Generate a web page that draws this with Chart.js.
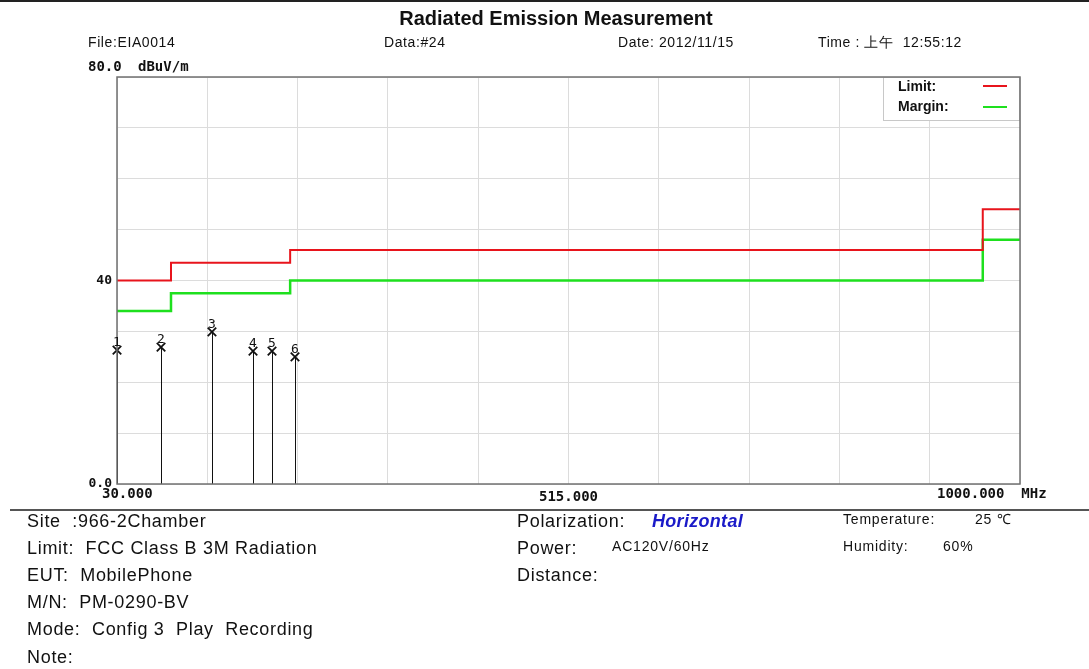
<!DOCTYPE html>
<html>
<head>
<meta charset="utf-8">
<script src="https://cdn.jsdelivr.net/npm/chart.js@4.4.1/dist/chart.umd.min.js"></script>
<style>
    html, body { margin: 0; padding: 0; background: #fff; }
    #page { position: relative; width: 1089px; height: 669px; overflow: hidden; font-family: "Liberation Sans", Arial, sans-serif; color: #111; }
    #page canvas { position: absolute; left: 0; top: 0; }
    .t { position: absolute; white-space: nowrap; line-height: 1; }
    .hdr { font-size: 14px; top: 35px; letter-spacing: 0.6px; }
    .info { font-size: 18px; letter-spacing: 0.7px; }
    .small { font-size: 14px; letter-spacing: 0.8px; }
    .topline { position: absolute; left: 0; top: 0; width: 1089px; height: 2px; background: #222; }
    .sepline { position: absolute; left: 10px; top: 509px; width: 1079px; height: 2px; background: #555; }
</style>
</head>
<body>
<div id="page">
    <canvas id="emission-chart" width="1089" height="669"></canvas>
    <div class="topline"></div>
    <div class="t" style="left:0;width:1112px;text-align:center;top:8px;font-size:20px;font-weight:bold;">Radiated Emission Measurement</div>
    <div class="t hdr" style="left:88px;">File:EIA0014</div>
    <div class="t hdr" style="left:384px;">Data:#24</div>
    <div class="t hdr" style="left:618px;">Date: 2012/11/15</div>
    <div class="t hdr" style="left:818px;">Time : 上午&nbsp; 12:55:12</div>
    <div class="sepline"></div>

    <div class="t info" style="left:27px;top:512px;">Site &nbsp;:966-2Chamber</div>
    <div class="t info" style="left:27px;top:539px;">Limit: &nbsp;FCC Class B 3M Radiation</div>
    <div class="t info" style="left:27px;top:566px;">EUT: &nbsp;MobilePhone</div>
    <div class="t info" style="left:27px;top:593px;">M/N: &nbsp;PM-0290-BV</div>
    <div class="t info" style="left:27px;top:620px;">Mode: &nbsp;Config 3 &nbsp;Play &nbsp;Recording</div>
    <div class="t info" style="left:27px;top:648px;">Note:</div>

    <div class="t info" style="left:517px;top:512px;">Polarization:</div>
    <div class="t info" style="left:652px;top:512px;color:#1a1ac8;font-weight:bold;font-style:italic;letter-spacing:0.3px;">Horizontal</div>
    <div class="t info" style="left:517px;top:539px;">Power:</div>
    <div class="t small" style="left:612px;top:539px;">AC120V/60Hz</div>
    <div class="t info" style="left:517px;top:566px;">Distance:</div>

    <div class="t small" style="left:843px;top:512px;">Temperature:</div>
    <div class="t small" style="left:975px;top:512px;">25 ℃</div>
    <div class="t small" style="left:843px;top:539px;">Humidity:</div>
    <div class="t small" style="left:943px;top:539px;">60%</div>
</div>
<script>
// FCC Class B 3m limit, stepped
const limitFreq = [30, 88, 88, 216, 216, 960, 960, 1000];
const limitLevel = [40, 40, 43.5, 43.5, 46, 46, 54, 54];
const marginLevel = [34, 34, 37.5, 37.5, 40, 40, 48, 48];

// peak markers
const peakNo = ['1', '2', '3', '4', '5', '6'];
const peakFreq = [30.0, 77.3, 132.0, 176.1, 196.5, 221.2];
const peakLevel = [26.3, 26.9, 29.9, 26.1, 26.1, 25.0];

// axis labels
const xLabelValues = [30, 515, 1000];
const xLabelText = ['30.000', '515.000', '1000.000  MHz'];
const yLabelValues = [0, 40];
const yLabelText = ['0.0', '40'];

const tickFont = '"DejaVu Sans Mono", "Liberation Mono", monospace';

document.addEventListener('DOMContentLoaded', () => {
    const ctx = document.getElementById('emission-chart').getContext('2d');

    // drop lines, marker numbers, x labels, legend box
    const extras = {
        id: 'extras',
        beforeDatasetsDraw(chart) {
            const c = chart.ctx;
            const xs = chart.scales.x;
            const ys = chart.scales.y;
            c.save();
            c.strokeStyle = '#111';
            c.lineWidth = 1;
            peakFreq.forEach((f, i) => {
                const px = Math.round(xs.getPixelForValue(f)) + 0.5;
                c.beginPath();
                c.moveTo(px, ys.getPixelForValue(0));
                c.lineTo(px, ys.getPixelForValue(peakLevel[i]));
                c.stroke();
            });
            c.restore();
        },
        afterDraw(chart) {
            const c = chart.ctx;
            const xs = chart.scales.x;
            const ys = chart.scales.y;
            const area = chart.chartArea;
            c.save();
            c.fillStyle = '#111';
            // x labels
            c.font = 'bold 14px ' + tickFont;
            c.textBaseline = 'top';
            xLabelValues.forEach((v, i) => {
                const px = xs.getPixelForValue(v);
                if (i === 0) { c.textAlign = 'left'; c.fillText(xLabelText[i], px - 15, area.bottom + 3); }
                else if (i === xLabelValues.length - 1) { c.textAlign = 'left'; c.fillText(xLabelText[i], px - 83, area.bottom + 3); }
                else { c.textAlign = 'center'; c.fillText(xLabelText[i], px, area.bottom + 6); }
            });
            // unit label at top of y axis
            c.textAlign = 'left';
            c.textBaseline = 'alphabetic';
            c.fillText('80.0', area.left - 29, area.top - 6);
            c.fillText('dBuV/m', area.left + 21, area.top - 6);

            // legend box
            const lx = 883, ly = area.top, lw = area.right - 883, lh = 43;
            c.fillStyle = '#fff';
            c.fillRect(lx, ly, lw, lh);
            c.strokeStyle = '#c8c8c8';
            c.lineWidth = 1;
            c.strokeRect(lx + 0.5, ly + 0.5, lw - 1, lh);
            c.fillStyle = '#111';
            c.font = 'bold 14px "Liberation Sans", Arial, sans-serif';
            c.textBaseline = 'middle';
            c.fillText('Limit:', 898, ly + 10);
            c.fillText('Margin:', 898, ly + 30);
            c.lineWidth = 2;
            c.strokeStyle = '#e8141c';
            c.beginPath(); c.moveTo(983, ly + 9); c.lineTo(1007, ly + 9); c.stroke();
            c.strokeStyle = '#1ee01e';
            c.beginPath(); c.moveTo(983, ly + 30); c.lineTo(1007, ly + 30); c.stroke();

            // plot frame
            c.strokeStyle = '#707070';
            c.lineWidth = 1.5;
            c.strokeRect(area.left, area.top, area.right - area.left, area.bottom - area.top);

            // marker numbers, on top of the frame
            c.fillStyle = '#111';
            c.font = '13px ' + tickFont;
            c.textAlign = 'center';
            c.textBaseline = 'bottom';
            peakFreq.forEach((f, i) => {
                c.fillText(peakNo[i], xs.getPixelForValue(f), ys.getPixelForValue(peakLevel[i]) - 1);
            });
            c.restore();
        }
    };

    new Chart(ctx, {
        type: 'scatter',
        data: {
            datasets: [
                {
                    label: 'Limit',
                    data: limitFreq.map((f, i) => ({ x: f, y: limitLevel[i] })),
                    showLine: true,
                    borderColor: '#e8141c',
                    borderWidth: 2,
                    pointRadius: 0
                },
                {
                    label: 'Margin',
                    data: limitFreq.map((f, i) => ({ x: f, y: marginLevel[i] })),
                    showLine: true,
                    borderColor: '#1ee01e',
                    borderWidth: 2.5,
                    pointRadius: 0
                },
                {
                    label: 'Peaks',
                    data: peakFreq.map((f, i) => ({ x: f, y: peakLevel[i] })),
                    showLine: false,
                    clip: false,
                    pointStyle: 'crossRot',
                    pointRadius: 6,
                    borderColor: '#111',
                    borderWidth: 1.8
                }
            ]
        },
        options: {
            responsive: false,
            animation: false,
            layout: { padding: { left: 77, right: 69, top: 77, bottom: 155 } },
            plugins: {
                legend: { display: false },
                tooltip: { enabled: false }
            },
            scales: {
                x: {
                    type: 'linear',
                    min: 30,
                    max: 1000,
                    afterBuildTicks: (scale) => {
                        const t = [];
                        for (let k = 0; k <= 10; k++) t.push({ value: 30 + 97 * k });
                        scale.ticks = t;
                    },
                    afterFit: (scale) => { scale.height = 30; },
                    grid: { color: '#dcdcdc', lineWidth: 1, drawTicks: false },
                    border: { display: false },
                    ticks: { display: false }
                },
                y: {
                    min: 0,
                    max: 80,
                    afterBuildTicks: (scale) => {
                        const t = [];
                        for (let k = 0; k <= 8; k++) t.push({ value: 10 * k });
                        scale.ticks = t;
                    },
                    afterFit: (scale) => { scale.width = 40; },
                    grid: { color: '#dcdcdc', lineWidth: 1, drawTicks: false },
                    border: { display: false },
                    ticks: {
                        padding: 5,
                        color: '#111',
                        font: { family: tickFont, size: 13, weight: 'bold' },
                        callback: (v) => {
                            const i = yLabelValues.indexOf(v);
                            return i >= 0 ? yLabelText[i] : '';
                        }
                    }
                }
            }
        },
        plugins: [extras]
    });
});
</script>
</body>
</html>
